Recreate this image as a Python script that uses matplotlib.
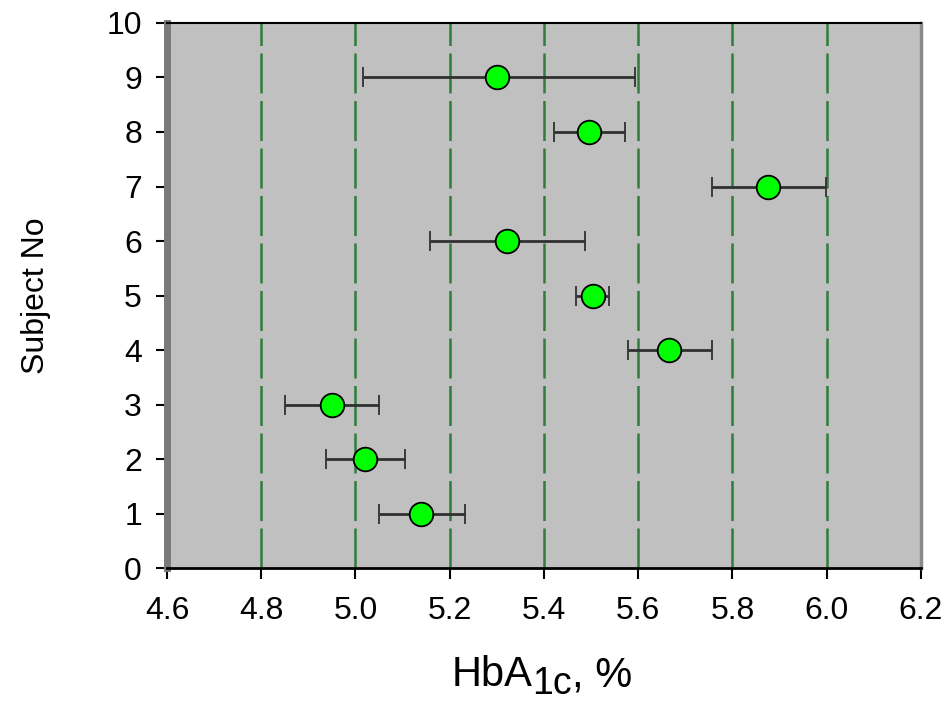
import matplotlib.pyplot as plt
import numpy as np

plt.rcParams['font.family'] = ['Liberation Sans', 'DejaVu Sans']

# HbA1c per subject, with lower / upper ends of the error bars
subjects = [1, 2, 3, 4, 5, 6, 7, 8, 9]
hba1c = [5.14, 5.02, 4.95, 5.665, 5.503, 5.322, 5.875, 5.495, 5.30]
err_low = [5.05, 4.937, 4.851, 5.578, 5.468, 5.159, 5.757, 5.422, 5.015]
err_high = [5.233, 5.105, 5.05, 5.757, 5.539, 5.488, 5.999, 5.572, 5.593]

x_ticks = [4.6, 4.8, 5.0, 5.2, 5.4, 5.6, 5.8, 6.0, 6.2]
y_ticks = list(range(0, 11))
grid_x = [4.8, 5.0, 5.2, 5.4, 5.6, 5.8, 6.0]

fig = plt.figure(figsize=(9.53, 7.01), dpi=100)
ax = fig.add_axes([0.1752, 0.1897, 0.7912, 0.7775])
ax.set_facecolor('#c0c0c0')

for gx in grid_x:
    ax.axvline(gx, color='#2e7d3a', lw=1.8, ls=(0, (16, 3)), zorder=1)

vals = np.array(hba1c)
xerr = [vals - np.array(err_low), np.array(err_high) - vals]
ax.errorbar(hba1c, subjects, xerr=xerr, fmt='o', ms=17, mfc='#00ff00',
            mec='black', mew=1.3, ecolor='#303030', elinewidth=2,
            capsize=7, capthick=2, zorder=3)

ax.set_xlim(4.6, 6.2)
ax.set_ylim(0, 10)
ax.set_xticks(x_ticks)
ax.set_xticklabels(['%.1f' % t for t in x_ticks])
ax.set_yticks(y_ticks)
ax.tick_params(labelsize=23, length=8, width=1.5, direction='out')
ax.tick_params(axis='x', pad=12)
ax.tick_params(axis='y', pad=10)

ax.spines['top'].set_color('black')
ax.spines['top'].set_linewidth(1.5)
ax.spines['bottom'].set_color('black')
ax.spines['bottom'].set_linewidth(2)
ax.spines['left'].set_color('#7a7a7a')
ax.spines['left'].set_linewidth(5)
ax.spines['right'].set_color('#8a8a8a')
ax.spines['right'].set_linewidth(2.5)

ax.set_ylabel('Subject No', fontsize=23, labelpad=40)

# x label with a nearly full-size subscript
t1 = fig.text(0.474, 0.008, 'HbA', fontsize=30, ha='left', va='bottom')
t2 = ax.annotate('1c', xy=(1, 0), xycoords=t1, xytext=(0, -5),
                 textcoords='offset points', fontsize=27, va='bottom')
ax.annotate(', %', xy=(1, 0), xycoords=t2, xytext=(0, 5),
            textcoords='offset points', fontsize=30, va='bottom')

fig.savefig('out.png', dpi=100)
